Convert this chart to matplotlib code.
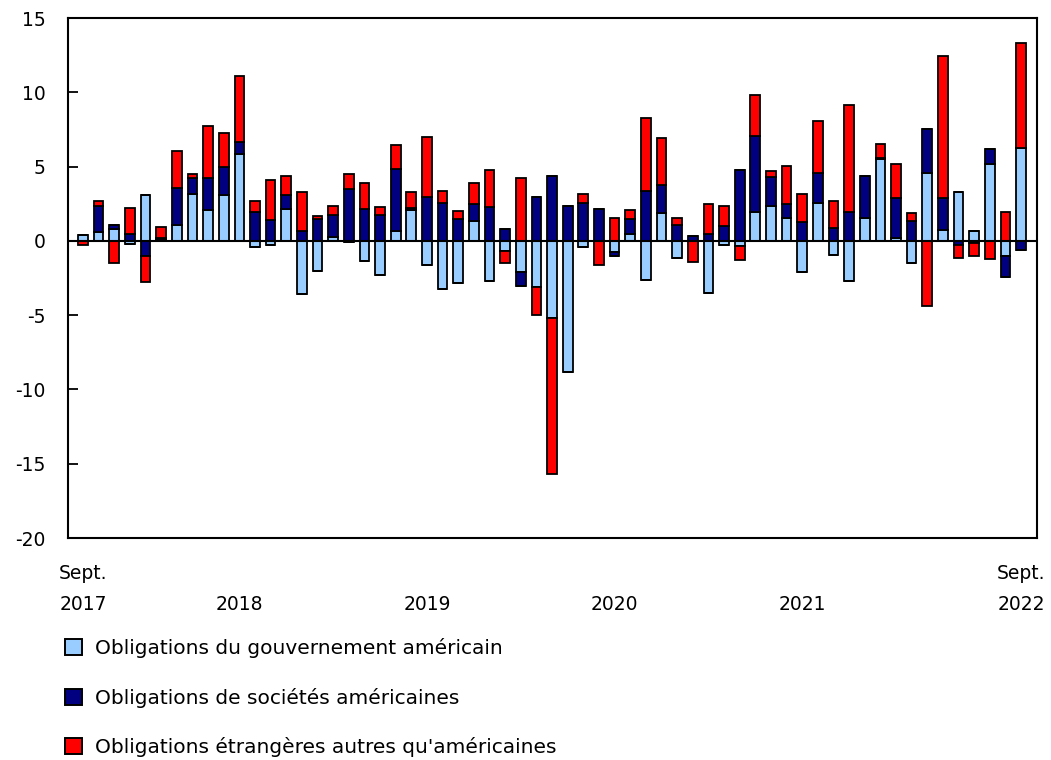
import matplotlib.pyplot as plt
import matplotlib.patches as mpatches
import numpy as np

# monthly values, Sept. 2017 .. Sept. 2022
gov_bonds = [0.4, 0.58, 0.78, -0.22, 3.08, 0.05, 1.1, 3.15, 2.08, 3.08,
             5.83, -0.42, -0.31, 2.15, -3.6, -2.03, 0.27, -0.1, -1.34, -2.32,
             0.65, 2.1, -1.61, -3.22, -2.82, 1.34, -2.7, -0.69, -2.12, -3.08,
             -5.19, -8.81, -0.42, 0.0, -0.78, 0.45, -2.64, 1.86, -1.12, 0.0,
             -3.53, -0.31, -0.36, 1.94, 2.35, 1.54, -2.12, 2.55, -0.92, -2.7,
             1.54, 5.48, 0.18, -1.52, 4.54, 0.74, 3.26, 0.67, 5.16, -1.03,
             6.26]
corp_bonds = [0.0, 1.79, 0.31, 0.45, -1.0, 0.15, 2.48, 1.05, 2.12, 1.9,
              0.85, 1.97, 1.39, 0.94, 0.67, 1.45, 1.5, 3.5, 2.17, 1.77,
              4.2, 0.13, 2.95, 2.57, 1.5, 1.12, 2.28, 0.78, -0.89, 2.97,
              4.36, 2.35, 2.55, 2.17, -0.27, 1.03, 3.35, 1.92, 1.07, 0.36,
              0.47, 0.98, 4.74, 5.1, 1.94, 0.94, 1.27, 2.01, 0.87, 1.97,
              2.82, 0.11, 2.7, 1.36, 3.0, 2.12, -0.25, -0.15, 1.03, -1.39,
              -0.63]
foreign_bonds = [-0.25, 0.31, -1.5, 1.74, -1.79, 0.7, 2.5, 0.29, 3.55, 2.3,
                 4.4, 0.72, 2.7, 1.3, 2.6, 0.22, 0.6, 1.03, 1.72, 0.51,
                 1.61, 1.05, 4.02, 0.78, 0.49, 1.43, 2.46, -0.83, 4.25, -1.9,
                 -10.5, 0.0, 0.63, -1.61, 1.56, 0.6, 4.95, 3.12, 0.49, -1.43,
                 1.99, 1.36, -0.96, 2.75, 0.38, 2.57, 1.9, 3.51, 1.81, 7.17,
                 0.0, 0.96, 2.28, 0.51, -4.4, 9.59, -0.89, -0.85, -1.23, 1.97,
                 7.09]

series_labels = ["Obligations du gouvernement américain",
                 "Obligations de sociétés américaines",
                 "Obligations étrangères autres qu'américaines"]
series_colors = ["#99CCFF", "#000080", "#FF0000"]

tick_positions = [0, 10, 22, 34, 46, 60]
tick_labels = ["Sept.\n2017", "\n2018", "\n2019", "\n2020", "\n2021", "Sept.\n2022"]

FS = 13.5
plt.rcParams['axes.unicode_minus'] = False

fig = plt.figure(figsize=(10.51, 7.6), dpi=100)
ax = fig.add_axes([0.0644, 0.2921, 0.9223, 0.6842])

x = np.arange(len(gov_bonds))
pos_bottom = np.zeros(len(x))
neg_bottom = np.zeros(len(x))
for values, color in zip([gov_bonds, corp_bonds, foreign_bonds], series_colors):
    v = np.array(values)
    pos = np.where(v > 0, v, 0)
    neg = np.where(v < 0, v, 0)
    ax.bar(x, pos, bottom=pos_bottom, width=0.62, color=color,
           edgecolor='black', linewidth=1.3, zorder=2)
    ax.bar(x, neg, bottom=neg_bottom, width=0.62, color=color,
           edgecolor='black', linewidth=1.3, zorder=2)
    pos_bottom += pos
    neg_bottom += neg

ax.axhline(0, color='black', linewidth=1.5, zorder=3)

ax.set_xlim(-0.98, 61.02)
ax.set_ylim(-20, 15)
ax.set_yticks(np.arange(-20, 16, 5))
ax.tick_params(axis='y', direction='in', length=7, width=1.3,
               labelsize=FS, pad=16)
ax.set_xticks(tick_positions)
ax.set_xticklabels(tick_labels, fontsize=FS, linespacing=1.75)
ax.tick_params(axis='x', length=0, pad=19)
for spine in ax.spines.values():
    spine.set_linewidth(1.5)

handles = [mpatches.Patch(facecolor=c, edgecolor='black', linewidth=1.4, label=l)
           for c, l in zip(series_colors, series_labels)]
fig.legend(handles=handles, loc='upper left', bbox_to_anchor=(0.062, 0.160),
           frameon=False, fontsize=14.5, borderpad=0, borderaxespad=0,
           handlelength=0.85, handleheight=0.85, handletextpad=0.65,
           labelspacing=1.46)

fig.savefig('out.png', dpi=100)
